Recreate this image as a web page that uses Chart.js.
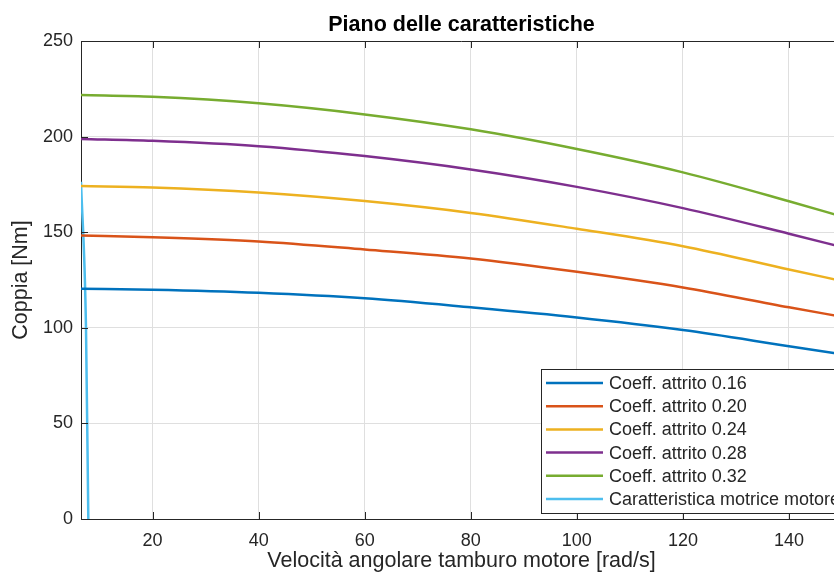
<!DOCTYPE html>
<html lang="it">
<head>
<meta charset="utf-8">
<title>Piano delle caratteristiche</title>
<script src="https://cdn.jsdelivr.net/npm/chart.js@4.4.1/dist/chart.umd.min.js"></script>
<style>
  html, body { margin: 0; padding: 0; background: #fff; overflow: hidden; }
  canvas { display: block; }
</style>
</head>
<body>
<canvas id="pianoChart" width="860" height="579"></canvas>
<script>
// velocità angolare del tamburo [rad/s]
const velocita = [6.5, 20, 40, 60, 80, 100, 120, 140, 150];

// coppia resistente [Nm] per ciascun coefficiente d'attrito
const coppia016 = [120.4, 119.9, 118.3, 115.4, 110.7, 105.4, 98.8, 90.4, 86.2];
const coppia020 = [148.3, 147.4, 145.2, 141.0, 136.3, 129.3, 121.1, 110.7, 105.8];
const coppia024 = [174.1, 173.4, 170.8, 166.3, 160.1, 151.8, 142.7, 130.5, 124.5];
const coppia028 = [198.8, 197.8, 195.0, 189.8, 182.8, 173.7, 162.6, 149.2, 142.2];
const coppia032 = [221.7, 220.8, 217.4, 211.6, 203.8, 193.5, 181.3, 166.2, 158.2];

// caratteristica motrice del motore
const velocitaMotore = [6.5, 7.44, 7.88];
const coppiaMotore = [176.4, 100, 0];

const etichette = [
    'Coeff. attrito 0.16',
    'Coeff. attrito 0.20',
    'Coeff. attrito 0.24',
    'Coeff. attrito 0.28',
    'Coeff. attrito 0.32',
    'Caratteristica motrice motore'
];
const colori = ['#0072BD', '#D95319', '#EDB120', '#7E2F8E', '#77AC30', '#4DBEEE'];

const FONT = '"Liberation Sans", Arial, Helvetica, sans-serif';
const GRIGIO = '#262626';

function punti(xs, ys) {
    return xs.map((x, i) => ({ x: x, y: ys[i] }));
}

const serie = [
    punti(velocita, coppia016),
    punti(velocita, coppia020),
    punti(velocita, coppia024),
    punti(velocita, coppia028),
    punti(velocita, coppia032),
    punti(velocitaMotore, coppiaMotore)
];

const datasets = serie.map((dati, i) => ({
    label: etichette[i],
    data: dati,
    borderColor: colori[i],
    backgroundColor: colori[i],
    borderWidth: 2.5,
    pointRadius: 0,
    fill: false,
    cubicInterpolationMode: 'monotone'
}));

// bordo superiore, tacche interne e legenda dentro l'area del grafico
const cornice = {
    id: 'cornice',
    afterDraw(chart) {
        const { ctx, chartArea: a, scales: { x, y } } = chart;
        ctx.save();
        ctx.strokeStyle = GRIGIO;
        ctx.lineWidth = 1;
        ctx.beginPath();
        ctx.moveTo(a.left, a.top + 0.5);
        ctx.lineTo(a.right, a.top + 0.5);
        ctx.moveTo(a.right - 0.5, a.top);
        ctx.lineTo(a.right - 0.5, a.bottom);
        x.ticks.forEach(t => {
            const px = Math.round(x.getPixelForValue(t.value)) + 0.5;
            ctx.moveTo(px, a.bottom);
            ctx.lineTo(px, a.bottom - 7);
            ctx.moveTo(px, a.top);
            ctx.lineTo(px, a.top + 7);
        });
        y.ticks.forEach(t => {
            const py = Math.round(y.getPixelForValue(t.value)) + 0.5;
            ctx.moveTo(a.left, py);
            ctx.lineTo(a.left + 7, py);
            ctx.moveTo(a.right, py);
            ctx.lineTo(a.right - 7, py);
        });
        ctx.stroke();

        // legenda in basso a destra
        const ds = chart.data.datasets;
        ctx.font = '18px ' + FONT;
        const maxW = Math.max(...ds.map(d => ctx.measureText(d.label).width));
        const rowH = 23.2;
        const w = 5 + 57 + 6 + maxW + 5;
        const h = ds.length * rowH + 4.8;
        const right = a.right + 3;
        const bottom = a.bottom - 6;
        const left = Math.round(right - w);
        const top = Math.round(bottom - h);
        ctx.fillStyle = '#fff';
        ctx.fillRect(left, top, w, h);
        ctx.strokeStyle = GRIGIO;
        ctx.lineWidth = 1;
        ctx.strokeRect(left + 0.5, top + 0.5, w, h);
        ds.forEach((d, i) => {
            const cy = top + 2.4 + rowH * (i + 0.5);
            ctx.strokeStyle = d.borderColor;
            ctx.lineWidth = 2.5;
            ctx.beginPath();
            ctx.moveTo(left + 5, cy);
            ctx.lineTo(left + 62, cy);
            ctx.stroke();
            ctx.fillStyle = GRIGIO;
            ctx.textBaseline = 'middle';
            ctx.textAlign = 'left';
            ctx.fillText(d.label, left + 68, cy + 1);
        });
        ctx.restore();
    }
};

Chart.defaults.font.family = FONT;

const ctx = document.getElementById('pianoChart').getContext('2d');
new Chart(ctx, {
    type: 'line',
    data: { datasets: datasets },
    plugins: [cornice],
    options: {
        responsive: false,
        animation: false,
        layout: { padding: { right: 18 } },
        plugins: {
            legend: { display: false },
            tooltip: { enabled: false },
            title: {
                display: true,
                text: 'Piano delle caratteristiche',
                fullSize: false,
                color: '#000',
                font: { size: 21.5, weight: 'bold' },
                padding: { top: 12, bottom: 3.2 }
            }
        },
        scales: {
            x: {
                type: 'linear',
                min: 6.5,
                max: 150,
                ticks: {
                    stepSize: 20,
                    includeBounds: false,
                    padding: 11,
                    color: GRIGIO,
                    font: { size: 18 }
                },
                grid: { color: '#dfdfdf', drawTicks: false },
                border: { color: GRIGIO },
                title: {
                    display: true,
                    text: 'Velocità angolare tamburo motore [rad/s]',
                    color: GRIGIO,
                    font: { size: 21.5 },
                    padding: { top: 0, bottom: 5 }
                },
                afterFit(scale) { scale.height = 60; }
            },
            y: {
                min: 0,
                max: 250,
                ticks: {
                    stepSize: 50,
                    padding: 8,
                    color: GRIGIO,
                    font: { size: 18 }
                },
                grid: { color: '#dfdfdf', drawTicks: false },
                border: { color: GRIGIO },
                title: {
                    display: true,
                    text: 'Coppia [Nm]',
                    color: GRIGIO,
                    font: { size: 21.5 },
                    padding: { top: 8, bottom: 0 }
                },
                afterFit(scale) { scale.width = 81; }
            }
        }
    }
});
</script>
</body>
</html>
